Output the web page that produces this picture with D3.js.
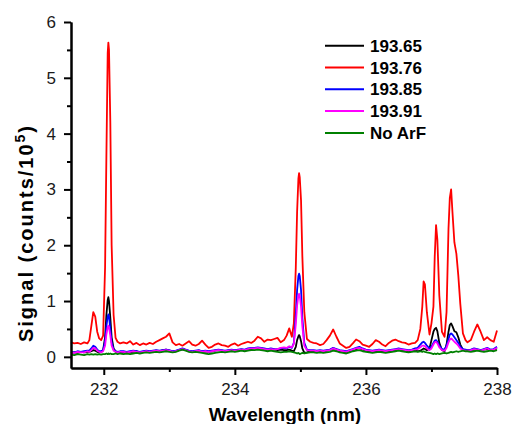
<!DOCTYPE html>
<html><head><meta charset="utf-8">
<script src="https://cdn.jsdelivr.net/npm/d3@7"></script>
<style>
body{margin:0;background:#fff}
svg{display:block}
text{font-family:Arial,"Liberation Sans",sans-serif}
</style>
</head><body>
<svg id="chart" width="513" height="424"></svg>
<script>
// ---------- data ----------
const wavelength = [
 231.50,231.55,231.60,231.65,231.70,231.75,
 231.78,231.81,231.84,231.87,231.90,231.93,231.96,231.99,232.02,232.04,232.06,232.07,232.08,232.10,232.12,232.15,232.18,232.21,232.25,
 232.30,232.35,232.40,232.45,232.50,232.55,232.60,232.65,232.70,232.75,
 232.80,232.85,232.90,232.95,233.00,233.05,233.10,233.15,233.20,233.25,
 233.30,233.35,233.40,233.45,233.50,233.55,233.60,233.65,233.70,233.75,
 233.80,233.85,233.90,233.95,234.00,234.05,234.10,234.15,234.20,234.25,
 234.30,234.35,234.40,234.45,234.50,234.55,234.60,234.65,234.70,234.75,
 234.79,234.83,234.87,234.90,234.93,234.95,234.97,234.98,234.99,235.01,235.03,235.06,235.10,235.15,
 235.20,235.25,235.30,235.35,235.40,235.45,235.50,235.55,235.60,235.65,
 235.70,235.75,235.80,235.85,235.90,235.95,236.00,236.05,236.10,236.15,
 236.20,236.25,236.30,236.35,236.40,236.45,236.50,236.55,236.60,236.65,
 236.70,236.75,
 236.79,236.83,236.86,236.88,236.90,236.93,236.97,237.00,237.03,237.05,
 237.07,237.09,237.12,237.16,237.20,237.23,237.26,237.28,237.30,237.32,
 237.35,237.38,237.41,237.44,237.48,237.52,
 237.55,237.60,237.65,237.70,237.75,237.80,237.85,237.90,237.95,238.00
];

const signal19365 = [
 0.07,0.08,0.07,0.09,0.08,0.09,
 0.09,0.10,0.12,0.11,0.09,0.08,0.09,0.12,0.35,0.75,1.02,1.07,1.00,0.70,0.35,0.15,0.10,0.09,0.08,
 0.08,0.09,0.08,0.09,0.10,0.08,0.09,0.10,0.09,0.10,
 0.11,0.10,0.12,0.13,0.11,0.09,0.10,0.12,0.14,0.12,
 0.10,0.09,0.10,0.11,0.09,0.10,0.09,0.10,0.11,0.12,
 0.11,0.10,0.11,0.12,0.11,0.12,0.13,0.12,0.13,0.14,
 0.15,0.16,0.15,0.14,0.13,0.14,0.13,0.12,0.13,0.12,
 0.12,0.13,0.11,0.10,0.18,0.30,0.37,0.39,0.37,0.28,0.15,0.07,0.08,0.10,
 0.10,0.09,0.10,0.09,0.11,0.12,0.15,0.13,0.10,0.09,
 0.08,0.10,0.12,0.14,0.16,0.13,0.11,0.10,0.09,0.10,
 0.11,0.10,0.09,0.10,0.11,0.12,0.13,0.12,0.11,0.10,
 0.11,0.12,
 0.10,0.11,0.13,0.15,0.14,0.12,0.15,0.30,0.45,0.50,
 0.52,0.46,0.25,0.12,0.10,0.22,0.45,0.57,0.60,0.55,
 0.46,0.44,0.35,0.22,0.13,0.12,
 0.11,0.12,0.13,0.12,0.11,0.13,0.14,0.12,0.13,0.15
];

const signal19376 = [
 0.26,0.24,0.25,0.23,0.26,0.24,
 0.30,0.55,0.80,0.72,0.45,0.33,0.30,0.38,1.60,3.60,5.45,5.63,5.50,4.20,2.00,0.75,0.34,0.27,0.24,
 0.26,0.24,0.28,0.22,0.25,0.21,0.24,0.22,0.25,0.23,
 0.27,0.30,0.33,0.36,0.42,0.26,0.21,0.23,0.20,0.24,
 0.28,0.22,0.20,0.23,0.29,0.22,0.16,0.18,0.22,0.24,
 0.21,0.20,0.18,0.22,0.24,0.20,0.23,0.25,0.27,0.25,
 0.29,0.36,0.33,0.27,0.31,0.30,0.32,0.34,0.26,0.30,
 0.38,0.51,0.36,0.60,1.60,2.60,3.20,3.29,3.22,2.80,1.80,0.80,0.32,0.27,
 0.25,0.24,0.21,0.23,0.30,0.38,0.49,0.36,0.24,0.20,
 0.16,0.18,0.24,0.31,0.28,0.22,0.20,0.18,0.23,0.30,
 0.27,0.22,0.19,0.25,0.29,0.31,0.28,0.26,0.25,0.22,
 0.24,0.25,
 0.30,0.50,0.90,1.35,1.30,0.80,0.40,0.60,0.90,1.80,
 2.36,2.10,1.10,0.45,0.36,0.80,2.30,2.85,3.00,2.60,
 2.05,1.85,1.45,0.95,0.42,0.30,
 0.26,0.30,0.45,0.58,0.45,0.30,0.35,0.30,0.27,0.47
];

const signal19385 = [
 0.09,0.08,0.10,0.09,0.10,0.11,
 0.11,0.15,0.20,0.18,0.13,0.10,0.10,0.12,0.28,0.55,0.72,0.76,0.72,0.50,0.26,0.13,0.10,0.09,0.10,
 0.10,0.09,0.10,0.11,0.10,0.09,0.10,0.11,0.10,0.11,
 0.12,0.11,0.12,0.13,0.12,0.10,0.11,0.13,0.15,0.13,
 0.11,0.10,0.11,0.12,0.10,0.11,0.10,0.11,0.12,0.13,
 0.12,0.11,0.12,0.13,0.12,0.13,0.14,0.13,0.15,0.16,
 0.16,0.17,0.16,0.15,0.14,0.15,0.14,0.14,0.15,0.16,
 0.15,0.18,0.16,0.25,0.75,1.20,1.45,1.49,1.45,1.20,0.70,0.25,0.13,0.12,
 0.12,0.11,0.12,0.11,0.12,0.13,0.16,0.14,0.12,0.11,
 0.10,0.12,0.14,0.16,0.18,0.15,0.13,0.12,0.11,0.12,
 0.13,0.12,0.11,0.12,0.13,0.14,0.15,0.14,0.13,0.12,
 0.13,0.15,
 0.16,0.22,0.26,0.27,0.25,0.20,0.15,0.18,0.25,0.29,
 0.30,0.27,0.20,0.14,0.13,0.20,0.32,0.40,0.42,0.40,
 0.35,0.30,0.25,0.18,0.14,0.13,
 0.12,0.13,0.15,0.14,0.12,0.14,0.16,0.13,0.14,0.18
];

const signal19391 = [
 0.08,0.07,0.09,0.08,0.08,0.10,
 0.09,0.12,0.16,0.15,0.11,0.09,0.08,0.10,0.20,0.40,0.53,0.56,0.53,0.38,0.20,0.11,0.09,0.08,0.09,
 0.09,0.08,0.09,0.10,0.09,0.08,0.09,0.10,0.09,0.10,
 0.11,0.10,0.11,0.12,0.11,0.09,0.10,0.12,0.14,0.12,
 0.10,0.09,0.10,0.11,0.09,0.10,0.09,0.10,0.11,0.12,
 0.11,0.10,0.11,0.12,0.11,0.12,0.13,0.12,0.14,0.15,
 0.15,0.16,0.15,0.14,0.13,0.14,0.13,0.14,0.16,0.17,
 0.16,0.19,0.17,0.23,0.58,0.92,1.10,1.13,1.10,0.90,0.55,0.20,0.12,0.11,
 0.11,0.10,0.11,0.10,0.11,0.12,0.15,0.13,0.11,0.10,
 0.09,0.11,0.13,0.15,0.16,0.14,0.12,0.11,0.10,0.11,
 0.12,0.11,0.10,0.11,0.12,0.13,0.14,0.13,0.12,0.11,
 0.12,0.13,
 0.14,0.17,0.20,0.20,0.19,0.15,0.12,0.15,0.22,0.26,
 0.27,0.24,0.17,0.12,0.11,0.16,0.26,0.31,0.33,0.31,
 0.27,0.24,0.20,0.15,0.12,0.11,
 0.11,0.12,0.14,0.13,0.11,0.13,0.15,0.12,0.13,0.16
];

const signalNoArF = [
 0.04,0.03,0.05,0.04,0.03,0.05,
 0.04,0.05,0.04,0.05,0.04,0.05,0.04,0.05,0.05,0.06,0.05,0.06,0.05,0.06,0.05,0.05,0.06,0.05,0.06,
 0.05,0.06,0.05,0.06,0.07,0.06,0.07,0.08,0.07,0.08,
 0.09,0.08,0.09,0.10,0.09,0.08,0.09,0.11,0.13,0.11,
 0.09,0.08,0.09,0.08,0.07,0.06,0.05,0.06,0.07,0.08,
 0.09,0.08,0.09,0.10,0.09,0.10,0.11,0.10,0.11,0.12,
 0.12,0.13,0.12,0.11,0.10,0.11,0.10,0.09,0.08,0.09,
 0.09,0.10,0.09,0.08,0.07,0.06,0.07,0.06,0.05,0.06,0.07,0.06,0.07,0.08,
 0.08,0.07,0.08,0.07,0.08,0.09,0.11,0.10,0.08,0.07,
 0.06,0.08,0.10,0.11,0.12,0.10,0.09,0.08,0.07,0.08,
 0.09,0.08,0.07,0.08,0.09,0.10,0.11,0.10,0.09,0.08,
 0.09,0.10,
 0.09,0.10,0.09,0.10,0.09,0.08,0.07,0.06,0.05,0.06,
 0.05,0.06,0.05,0.06,0.07,0.06,0.07,0.08,0.09,0.08,
 0.09,0.10,0.09,0.10,0.11,0.10,
 0.10,0.09,0.10,0.11,0.10,0.09,0.10,0.11,0.10,0.12
];

const seriesNames = ["193.65", "193.76", "193.85", "193.91", "No ArF"];
const seriesValues = [signal19365, signal19376, signal19385, signal19391, signalNoArF];
const seriesColors = ["#000000", "#ff0000", "#0000ff", "#ff00ff", "#008000"];

const xMajorTicks = [232, 234, 236, 238];
const xMinorTicks = [233, 235, 237];
const yMajorTicks = [0, 1, 2, 3, 4, 5, 6];
const yMinorTicks = [0.5, 1.5, 2.5, 3.5, 4.5, 5.5];

// ---------- drawing ----------
const svg = d3.select("#chart");
const x = d3.scaleLinear().domain([231.5, 238]).range([71, 497]);
const y = d3.scaleLinear().domain([-0.2, 6]).range([368, 22]);

const line = d3.line().x(d => x(d[0])).y(d => y(d[1]));

const plot = svg.append("g");
seriesValues.forEach((vals, i) => {
  const pts = wavelength.map((w, k) => [w, vals[k]]).filter(p => p[1] !== undefined);
  plot.append("path")
    .datum(pts)
    .attr("fill", "none")
    .attr("stroke", seriesColors[i])
    .attr("stroke-width", 1.8)
    .attr("stroke-linejoin", "round")
    .attr("d", line);
});

function styleAxis(g) {
  g.select(".domain").attr("stroke", "#000").attr("stroke-width", 2);
  g.selectAll(".tick line").attr("stroke", "#000").attr("stroke-width", 2);
  g.selectAll(".tick text").attr("font-size", 17).attr("fill", "#1a1a1a")
    .style("font-family", "Arial, 'Liberation Sans', sans-serif");
}

// minor ticks
svg.append("g").attr("transform", "translate(0,368)")
  .call(d3.axisBottom(x).tickValues(xMinorTicks).tickSize(4).tickFormat("").tickSizeOuter(0))
  .call(styleAxis);
svg.append("g").attr("transform", "translate(71,0)")
  .call(d3.axisLeft(y).tickValues(yMinorTicks).tickSize(4).tickFormat("").tickSizeOuter(0))
  .call(styleAxis);

// major axes
svg.append("g").attr("transform", "translate(0,368)")
  .call(d3.axisBottom(x).tickValues(xMajorTicks).tickSize(7).tickPadding(8).tickSizeOuter(0).tickFormat(d3.format("d")))
  .call(styleAxis);
svg.append("g").attr("transform", "translate(71,0)")
  .call(d3.axisLeft(y).tickValues(yMajorTicks).tickSize(7).tickPadding(8).tickSizeOuter(0).tickFormat(d3.format("d")))
  .call(styleAxis);

// axis titles
svg.append("text")
  .attr("x", 285).attr("y", 421)
  .attr("text-anchor", "middle")
  .attr("font-size", 19).attr("font-weight", "bold")
  .text("Wavelength (nm)");

const yt = svg.append("text")
  .attr("transform", "translate(33,233) rotate(-90)")
  .attr("text-anchor", "middle")
  .attr("font-size", 20).attr("font-weight", "bold")
  .attr("letter-spacing", 2);
yt.append("tspan").text("Signal (counts/10");
yt.append("tspan").attr("dy", -8).attr("font-size", 14).text("5");
yt.append("tspan").attr("dy", 8).text(")");

// legend
const legend = svg.append("g");
seriesNames.forEach((name, i) => {
  const cy = 45.7 + i * 21.8;
  legend.append("line")
    .attr("x1", 325).attr("x2", 364).attr("y1", cy).attr("y2", cy)
    .attr("stroke", seriesColors[i]).attr("stroke-width", 2);
  legend.append("text")
    .attr("x", 370).attr("y", cy + 6)
    .attr("font-size", 17).attr("font-weight", "bold")
    .text(name);
});
</script>
</body></html>
